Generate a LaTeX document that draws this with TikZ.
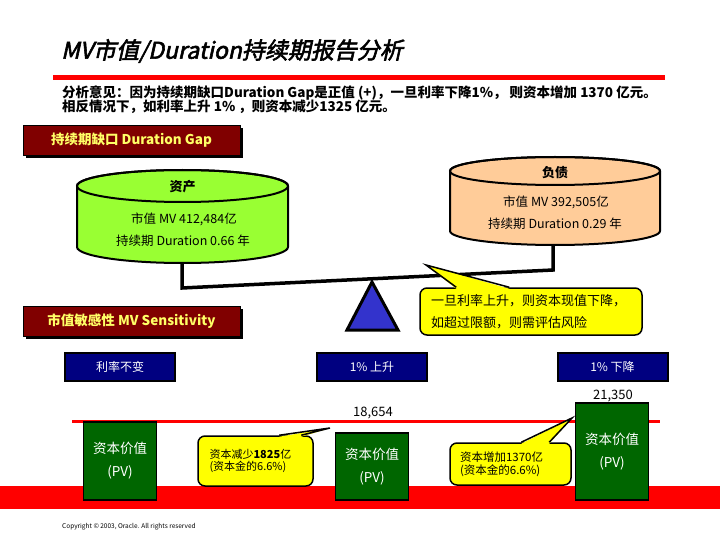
\documentclass[tikz,border=0pt]{standalone}
\usepackage{fontspec}
\setmainfont{Noto Sans CJK SC}
\newfontfamily\mvTitleFont{Noto Sans CJK SC}[FakeSlant=0.22,FakeBold=2.5]
\usepackage{tikz}
\usetikzlibrary{positioning,shadows}
\definecolor{mvGap}{HTML}{800000}
\definecolor{mvGapText}{HTML}{FFFF66}
\definecolor{mvAsset}{HTML}{99FF33}
\definecolor{mvDebt}{HTML}{FFCC99}
\definecolor{mvPivot}{HTML}{3333CC}
\definecolor{mvRate}{HTML}{000080}
\definecolor{mvPV}{HTML}{006600}
\definecolor{mvNote}{HTML}{FFFF00}
\definecolor{mvRed}{HTML}{FF0000}
\tikzset{
  mvhdr/.style={draw=black,line width=0.8pt,fill=mvGap,text=mvGapText,inner sep=0pt,
                minimum width=217pt,minimum height=30pt,font=\fontsize{13.5}{16}\selectfont\bfseries,
                drop shadow={shadow xshift=3pt,shadow yshift=-3pt,fill=black,opacity=1}},
  mvrate/.style={draw=black,line width=2pt,fill=mvRate,text=white,inner sep=0pt,
                 minimum width=110pt,minimum height=28pt,font=\fontsize{12}{14}\selectfont},
  mvpv/.style={draw=black,line width=1.5pt,fill=mvPV,text=white,inner sep=0pt,align=center,
               minimum width=73pt,font=\fontsize{13.5}{23}\selectfont},
  mvnote/.style={draw=black,line width=1.5pt,fill=mvNote,rounded corners=7pt,align=left,inner ysep=0pt},
  mvcyl/.style={draw=black,line width=2pt},
  mvbeam/.style={draw=black,line width=3.5pt,line join=miter},
  mvtxt/.style={inner sep=0pt,font=\fontsize{12.5}{15}\selectfont},
  mvnum/.style={inner sep=0pt,font=\fontsize{13}{15}\selectfont},
}

\begin{document}
\begin{tikzpicture}[x=1pt,y=-1pt]
  \useasboundingbox[fill=white] (0,0) rectangle (720,540);

  \node[anchor=west,inner sep=0pt,font=\fontsize{23}{27}\selectfont\mvTitleFont] (mvTitle) at (61,51)
        {MV市值/Duration持续期报告分析};
  \draw[mvRed,line width=5pt] (53,78) -- (665,78);
  \node[anchor=north west,inner sep=0pt,align=left,font=\fontsize{13.5}{14.5}\selectfont\bfseries] (mvSummary) at (62,85.5)
        {分析意见：因为持续期缺口Duration Gap是正值 (+)，一旦利率下降1\%， 则资本增加 1370 亿元。\\
         相反情况下，如利率上升 1\% ，则资本减少1325 亿元。};

  \node[mvhdr] (hdrGap) at (131.5,140) {持续期缺口 Duration Gap};

  \filldraw[mvcyl,fill=mvAsset] (77,186) -- (77,247) arc[start angle=180,end angle=360,x radius=105.5pt,y radius=16pt]
        -- (288,186) arc[start angle=0,end angle=180,x radius=105.5pt,y radius=16pt] -- cycle;
  \draw[mvcyl] (182.5,186) ellipse[x radius=105.5pt,y radius=16pt];
  \node[mvtxt,font=\fontsize{13}{15}\selectfont\bfseries] (assetHead) at (182.5,187) {资产};
  \node[mvtxt] (assetMV) at (184,219) {市值 MV 412,484亿};
  \node[mvtxt] (assetDur) at (183,241) {持续期 Duration 0.66 年};
  \coordinate (assetBase) at (182,263);

  \filldraw[mvcyl,fill=mvDebt] (450,171) -- (450,231) arc[start angle=180,end angle=360,x radius=105pt,y radius=14pt]
        -- (660,171) arc[start angle=0,end angle=180,x radius=105pt,y radius=14pt] -- cycle;
  \draw[mvcyl] (555,171) ellipse[x radius=105pt,y radius=14pt];
  \node[mvtxt,font=\fontsize{13}{15}\selectfont\bfseries] (debtHead) at (555,173) {负债};
  \node[mvtxt] (debtMV) at (556,202) {市值 MV 392,505亿};
  \node[mvtxt] (debtDur) at (555,224) {持续期 Duration 0.29 年};
  \coordinate (debtBase) at (553,245);

  \draw[mvbeam] (assetBase) -- ++(0,25) -- ([yshift=-25pt]debtBase) -- (debtBase);
  \filldraw[fill=mvPivot,draw=black,line width=3pt,line join=miter] (372,282) -- (398,330) -- (347,330) -- cycle;

  \node[mvnote,minimum width=222pt,minimum height=47pt,text width=200pt,inner xsep=11pt,
        font=\fontsize{13}{22}\selectfont] (noteRisk) at (531,311.5)
        {一旦利率上升，则资本现值下降，\\如超过限额，则需评估风险};
  \coordinate (riskTip) at (426,265);
  \fill[mvNote] ([xshift=37pt,yshift=-1.5pt]noteRisk.north west) -- (riskTip) -- ([xshift=90pt,yshift=-1.5pt]noteRisk.north west) -- cycle;
  \draw[line width=1.5pt] ([xshift=37pt]noteRisk.north west) -- (riskTip) -- ([xshift=90pt]noteRisk.north west);

  \node[mvhdr] (hdrSens) at (131.5,321) {市值敏感性 MV Sensitivity};

  \node[mvrate] (rateSame) at (120,367) {利率不变};
  \node[mvrate] (rateUp) at (372,367) {1\% 上升};
  \node[mvrate] (rateDown) at (612.5,367) {1\% 下降};

  \draw[mvRed,line width=3pt] (72,421) -- (660,421);
  \fill[mvRed] (0,486) rectangle (720,509);

  \node[mvnum] (numUp) at (373,413) {18,654};
  \node[mvnum] (numDown) at (613,396) {21,350};

  \node[mvpv,minimum height=78pt] (pvSame) at (120,461) {资本价值\\(PV)};
  \node[mvpv,minimum height=67pt] (pvUp) at (372,466.5) {资本价值\\(PV)};
  \node[mvpv,minimum height=97pt] (pvDown) at (612,451.5) {资本价值\\(PV)};

  \node[mvnote,minimum width=115pt,minimum height=50pt,text width=92pt,inner xsep=11.5pt,
        font=\fontsize{11}{12}\selectfont] (noteLoss) at (255.5,461)
        {资本减少\textbf{1825}亿\\(资本金的6.6\%)};
  \coordinate (lossTip) at (330,428);
  \fill[mvNote] ([xshift=82pt,yshift=-1.5pt]noteLoss.north west) -- (lossTip) -- ([xshift=104pt,yshift=-1.5pt]noteLoss.north west) -- cycle;
  \draw[line width=1.5pt] ([xshift=82pt]noteLoss.north west) -- (lossTip) -- ([xshift=104pt]noteLoss.north west);

  \node[mvnote,minimum width=121pt,minimum height=42pt,text width=101pt,inner xsep=10pt,
        font=\fontsize{11.5}{13}\selectfont] (noteGain) at (510.5,464)
        {资本增加1370亿\\(资本金的6.6\%)};
  \coordinate (gainTip) at (572,418);
  \fill[mvNote] ([xshift=72pt,yshift=-1.5pt]noteGain.north west) -- (gainTip) -- ([xshift=100pt,yshift=-1.5pt]noteGain.north west) -- cycle;
  \draw[line width=1.5pt] ([xshift=72pt]noteGain.north west) -- (gainTip) -- ([xshift=100pt]noteGain.north west);

  \node[anchor=west,inner sep=0pt,font=\fontsize{6.5}{8}\selectfont] (mvCopy) at (62,527)
        {Copyright © 2003, Oracle. All rights reserved};
\end{tikzpicture}
\end{document}
